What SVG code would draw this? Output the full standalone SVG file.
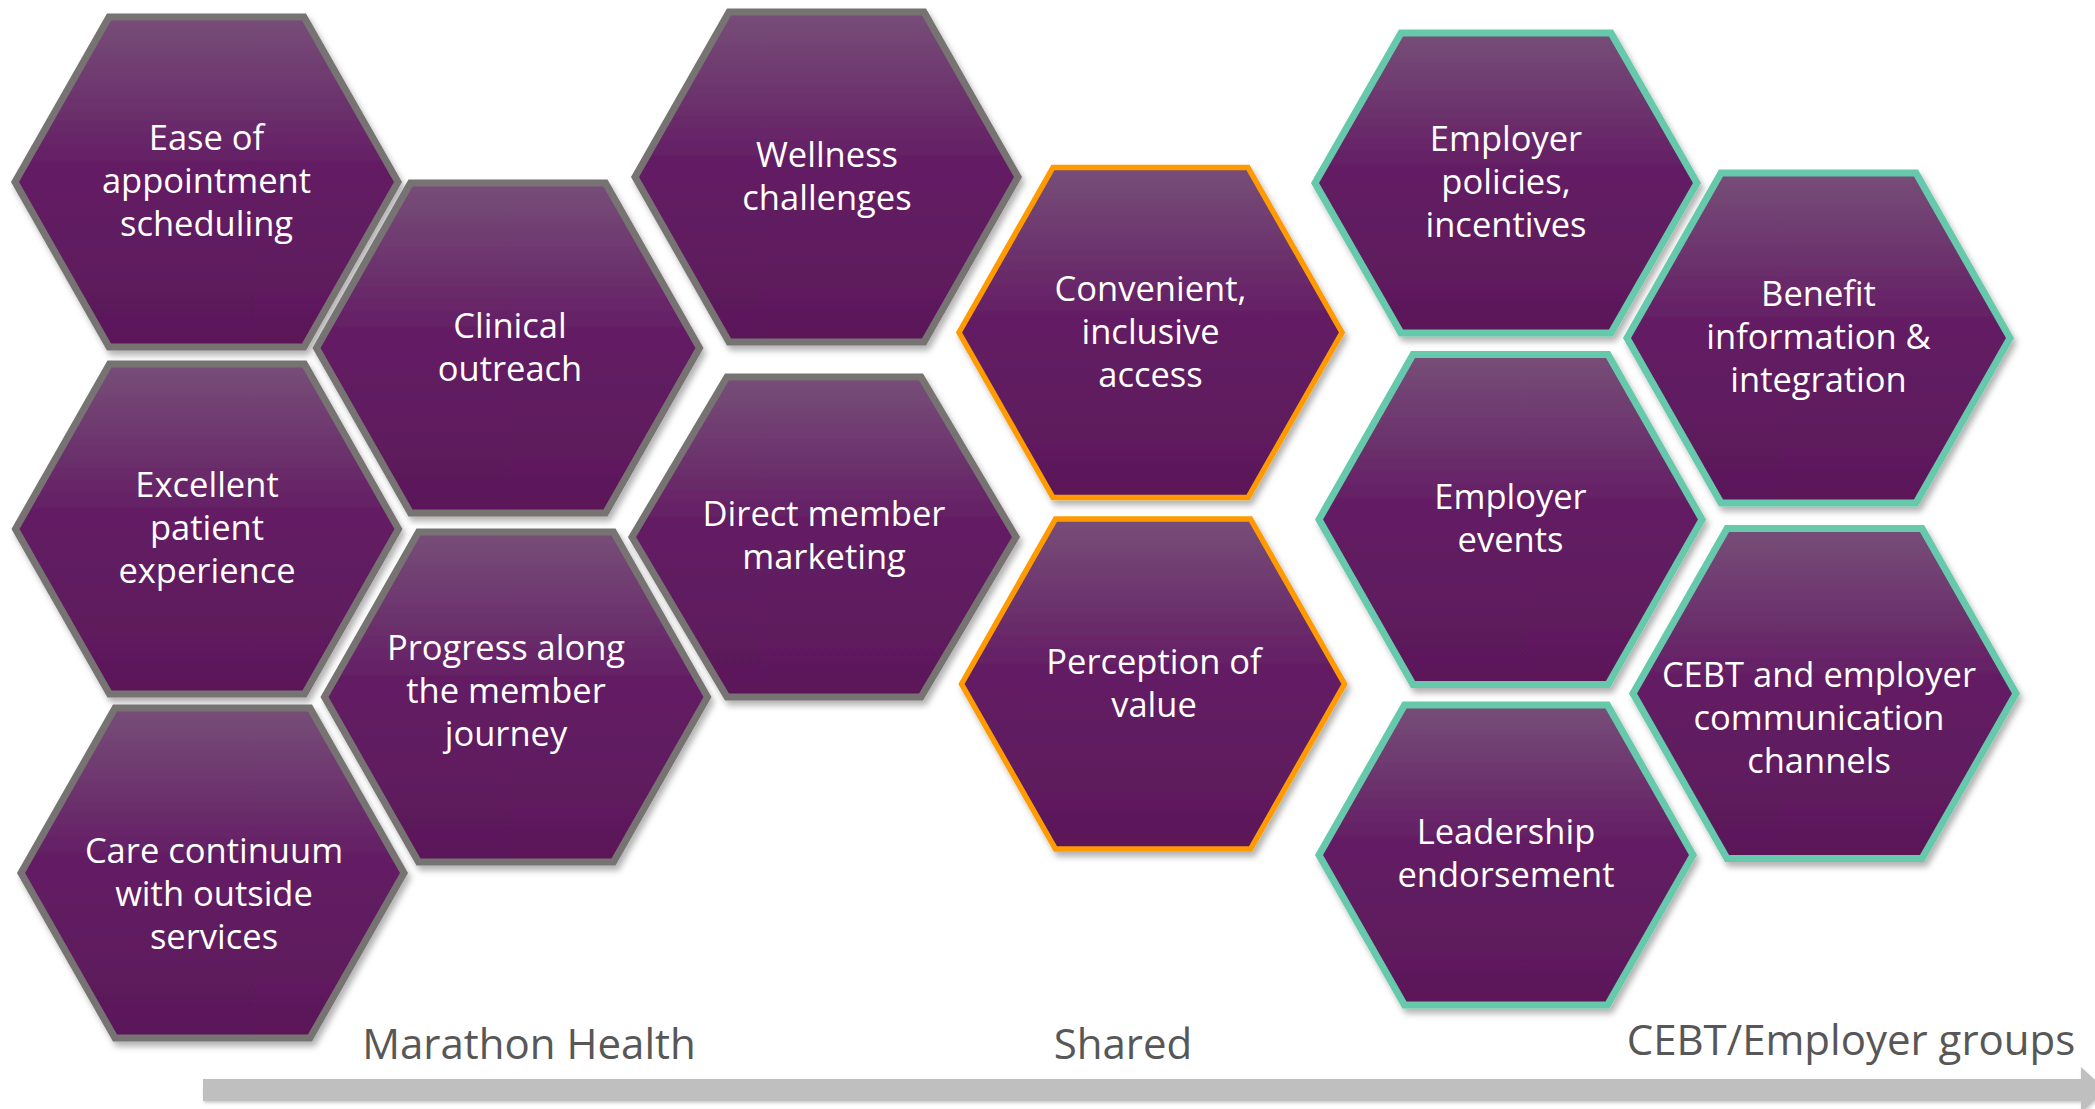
<svg xmlns="http://www.w3.org/2000/svg" xmlns:xlink="http://www.w3.org/1999/xlink" width="2095" height="1109" viewBox="0 0 2095 1109">
  <style>
    .hex { fill: url(#purple); filter: url(#shadow); stroke-linejoin: miter; }
    .gray { stroke: #777373; stroke-width: 7; }
    .orange { stroke: #FF9A00; stroke-width: 5.5; }
    .teal { stroke: #66C9AB; stroke-width: 7; }
    .lbl { font-family: "Open Sans", "Liberation Sans", sans-serif; font-size: 34.5px; fill: #FFFFFF; text-anchor: middle; }
    .axis { font-family: "Open Sans", "Liberation Sans", sans-serif; font-size: 42px; fill: #575757; text-anchor: middle; }
  </style>
  <defs>
    <linearGradient id="purple" x1="0" y1="0" x2="0" y2="1">
      <stop offset="0" stop-color="#774e78"/>
      <stop offset="0.45" stop-color="#641e64"/>
      <stop offset="1" stop-color="#5b1859"/>
    </linearGradient>
    <filter id="shadow" x="-10%" y="-10%" width="125%" height="130%">
      <feDropShadow dx="3" dy="5" stdDeviation="3" flood-color="#000000" flood-opacity="0.3"/>
    </filter>
    <filter id="barShadow" x="-5%" y="-50%" width="110%" height="200%">
      <feDropShadow dx="1" dy="2" stdDeviation="1.5" flood-color="#000000" flood-opacity="0.2"/>
    </filter>
    <path id="hexL" d="M -191.5 0 L -97.5 -165 L 97.5 -165 L 191.5 0 L 97.5 165 L -97.5 165 Z"/>
    <path id="hexS" d="M -191 0 L -105 -150 L 105 -150 L 191 0 L 105 150 L -105 150 Z"/>
    <path id="hexS2" d="M -187 0 L -101.5 -150 L 101.5 -150 L 187 0 L 101.5 150 L -101.5 150 Z"/>
    <path id="hexD" d="M -192 0 L -97 -160 L 97 -160 L 192 0 L 97 160 L -97 160 Z"/>
  </defs>

  <g id="connectors">
    <polygon points="203,1079 2081,1079 2081,1067 2106,1090 2081,1113 2081,1101 203,1101" fill="#BFBFBF" filter="url(#barShadow)"/>
  </g>

  <g id="axis-labels">
    <text class="axis" x="529" y="1059">Marathon Health</text>
    <text class="axis" x="1123" y="1059">Shared</text>
    <text class="axis" x="1851" y="1055">CEBT/Employer groups</text>
  </g>

  <g id="ease">
    <use xlink:href="#hexL" href="#hexL" class="hex gray" transform="translate(206.5,182)"/>
    <text class="lbl" x="206.5" y="150">Ease of</text>
    <text class="lbl" x="206.5" y="193">appointment</text>
    <text class="lbl" x="206.5" y="236">scheduling</text>
  </g>

  <g id="excellent">
    <use xlink:href="#hexL" href="#hexL" class="hex gray" transform="translate(207,529)"/>
    <text class="lbl" x="207" y="497">Excellent</text>
    <text class="lbl" x="207" y="540">patient</text>
    <text class="lbl" x="207" y="583">experience</text>
  </g>

  <g id="care">
    <use xlink:href="#hexL" href="#hexL" class="hex gray" transform="translate(212.5,873)"/>
    <text class="lbl" x="214" y="863">Care continuum</text>
    <text class="lbl" x="214" y="906">with outside</text>
    <text class="lbl" x="214" y="949">services</text>
  </g>

  <g id="clinical">
    <use xlink:href="#hexL" href="#hexL" class="hex gray" transform="translate(508,348)"/>
    <text class="lbl" x="510" y="337.5">Clinical</text>
    <text class="lbl" x="510" y="380.5">outreach</text>
  </g>

  <g id="progress">
    <use xlink:href="#hexL" href="#hexL" class="hex gray" transform="translate(516,697)"/>
    <text class="lbl" x="506" y="660">Progress along</text>
    <text class="lbl" x="506" y="703">the member</text>
    <text class="lbl" x="506" y="746">journey</text>
  </g>

  <g id="wellness">
    <use xlink:href="#hexL" href="#hexL" class="hex gray" transform="translate(826.5,177)"/>
    <text class="lbl" x="827" y="166.5">Wellness</text>
    <text class="lbl" x="827" y="209.5">challenges</text>
  </g>

  <g id="direct">
    <use xlink:href="#hexD" href="#hexD" class="hex gray" transform="translate(824,537)"/>
    <text class="lbl" x="824" y="525.5">Direct member</text>
    <text class="lbl" x="824" y="568.5">marketing</text>
  </g>

  <g id="convenient">
    <use xlink:href="#hexL" href="#hexL" class="hex orange" transform="translate(1150.5,332.5)"/>
    <text class="lbl" x="1150.5" y="300.5">Convenient,</text>
    <text class="lbl" x="1150.5" y="343.5">inclusive</text>
    <text class="lbl" x="1150.5" y="386.5">access</text>
  </g>

  <g id="perception">
    <use xlink:href="#hexL" href="#hexL" class="hex orange" transform="translate(1153,684)"/>
    <text class="lbl" x="1154" y="673.5">Perception of</text>
    <text class="lbl" x="1154" y="716.5">value</text>
  </g>

  <g id="policies">
    <use xlink:href="#hexS" href="#hexS" class="hex teal" transform="translate(1506,183)"/>
    <text class="lbl" x="1506" y="151">Employer</text>
    <text class="lbl" x="1506" y="194">policies,</text>
    <text class="lbl" x="1506" y="237">incentives</text>
  </g>

  <g id="benefit">
    <use xlink:href="#hexL" href="#hexL" class="hex teal" transform="translate(1818.5,338)"/>
    <text class="lbl" x="1818.5" y="306">Benefit</text>
    <text class="lbl" x="1818.5" y="349">information &amp;</text>
    <text class="lbl" x="1818.5" y="392">integration</text>
  </g>

  <g id="events">
    <use xlink:href="#hexL" href="#hexL" class="hex teal" transform="translate(1510.5,519.5)"/>
    <text class="lbl" x="1510.5" y="509">Employer</text>
    <text class="lbl" x="1510.5" y="552">events</text>
  </g>

  <g id="leadership">
    <use xlink:href="#hexS2" href="#hexS2" class="hex teal" transform="translate(1506,855)"/>
    <text class="lbl" x="1506" y="844">Leadership</text>
    <text class="lbl" x="1506" y="887">endorsement</text>
  </g>

  <g id="cebt">
    <use xlink:href="#hexL" href="#hexL" class="hex teal" transform="translate(1824.5,693.5)"/>
    <text class="lbl" x="1819" y="687">CEBT and employer</text>
    <text class="lbl" x="1819" y="730">communication</text>
    <text class="lbl" x="1819" y="773">channels</text>
  </g>
</svg>
